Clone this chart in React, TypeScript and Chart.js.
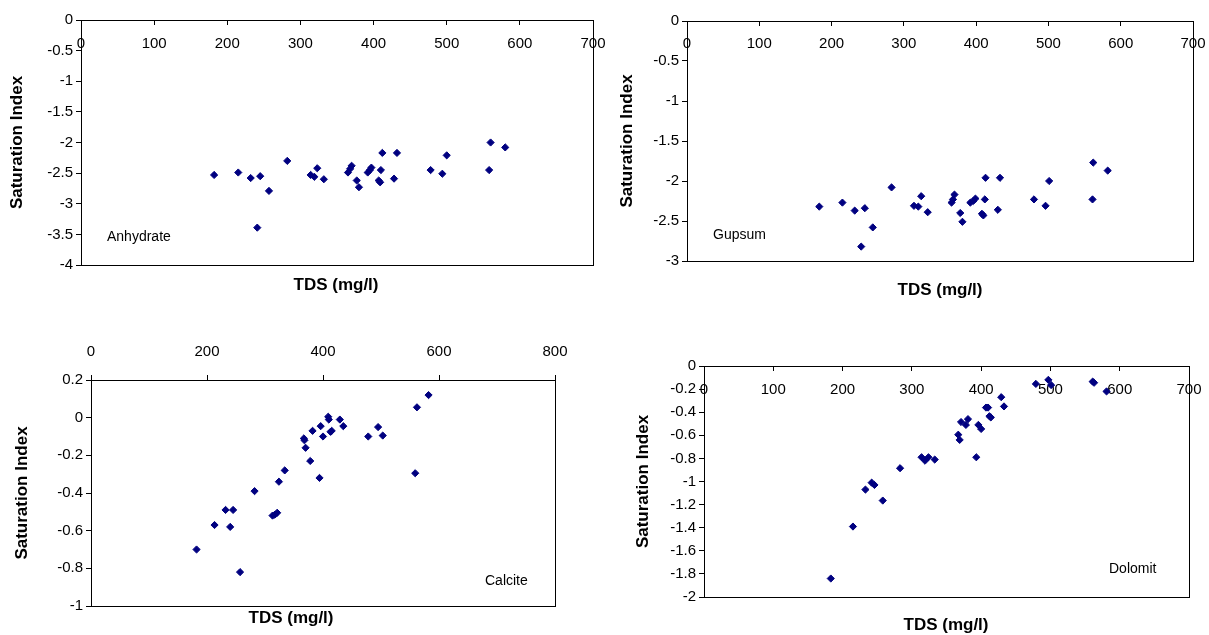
import React, { useEffect, useRef } from "react";
import { Chart, registerables } from "chart.js";

Chart.register(...registerables);

const FONT = "'Liberation Sans', Arial, Helvetica, sans-serif";
const NAVY = "#000080";
const TICK_PX = 15;
const NAME_PX = 14;
const TITLE_PX = 17;

// Saturation indices against total dissolved solids, one pair of arrays per mineral
const anhydrateTds = [182, 215, 232, 241, 245, 257, 282, 314, 319, 323, 332, 365, 368, 370, 377, 380, 392, 395, 397, 407, 409, 410, 412, 428, 432, 478, 494, 500, 558, 560, 580];
const anhydrateSi = [-2.53, -2.49, -2.58, -3.39, -2.55, -2.79, -2.3, -2.53, -2.56, -2.42, -2.6, -2.49, -2.43, -2.38, -2.62, -2.73, -2.49, -2.45, -2.41, -2.62, -2.65, -2.45, -2.17, -2.59, -2.17, -2.45, -2.51, -2.21, -2.45, -2.0, -2.08];

const gypsumTds = [183, 215, 232, 241, 246, 257, 283, 314, 320, 324, 333, 366, 368, 370, 378, 381, 392, 396, 399, 408, 410, 412, 413, 430, 433, 480, 496, 501, 561, 562, 582];
const gypsumSi = [-2.32, -2.27, -2.37, -2.82, -2.34, -2.58, -2.08, -2.31, -2.32, -2.19, -2.39, -2.27, -2.23, -2.17, -2.4, -2.51, -2.27, -2.25, -2.22, -2.41, -2.43, -2.23, -1.96, -2.36, -1.96, -2.23, -2.31, -2.0, -2.23, -1.77, -1.87];

const calciteTds = [182, 213, 232, 240, 245, 257, 282, 313, 317, 321, 324, 334, 367, 368, 370, 378, 382, 394, 396, 400, 409, 410, 413, 415, 429, 435, 478, 495, 503, 559, 562, 582];
const calciteSi = [-0.7, -0.57, -0.49, -0.58, -0.49, -0.82, -0.39, -0.52, -0.515, -0.505, -0.34, -0.28, -0.11, -0.12, -0.16, -0.23, -0.07, -0.32, -0.045, -0.1, 0.005, -0.01, -0.075, -0.07, -0.01, -0.045, -0.1, -0.05, -0.095, -0.295, 0.055, 0.12];

const dolomiteTds = [183, 215, 233, 242, 246, 258, 283, 314, 319, 324, 333, 367, 369, 371, 378, 381, 393, 396, 400, 407, 410, 412, 414, 429, 433, 479, 497, 501, 561, 563, 581];
const dolomiteSi = [-1.84, -1.39, -1.07, -1.01, -1.03, -1.165, -0.885, -0.79, -0.82, -0.79, -0.81, -0.595, -0.64, -0.485, -0.51, -0.46, -0.79, -0.51, -0.545, -0.36, -0.36, -0.435, -0.445, -0.27, -0.35, -0.155, -0.12, -0.165, -0.135, -0.145, -0.22];

// Axis ticks
const tdsTicks700 = [0, 100, 200, 300, 400, 500, 600, 700];
const tdsTicks800 = [0, 200, 400, 600, 800];
const anhydrateTicks = [0, -0.5, -1, -1.5, -2, -2.5, -3, -3.5, -4];
const gypsumTicks = [0, -0.5, -1, -1.5, -2, -2.5, -3];
const calciteTicks = [0.2, 0, -0.2, -0.4, -0.6, -0.8, -1];
const dolomiteTicks = [0, -0.2, -0.4, -0.6, -0.8, -1, -1.2, -1.4, -1.6, -1.8, -2];

const xTitle = "TDS (mg/l)";
const yTitle = "Saturation Index";

interface PanelSpec {
  name: string;
  tds: number[];
  si: number[];
  xTicks: number[];
  yTicks: number[];
  box: [number, number, number, number]; // canvas left, top, width, height
  area: [number, number, number, number]; // plot left, top, right, bottom
  xInside: boolean; // tick labels hang inside the plot below the top axis
  xLabelGap: number; // plot top to tick label centre
  yTitleX: number;
  xTitleAt: [number, number];
  nameAt: [number, number];
}

const panels: PanelSpec[] = [
  {
    name: "Anhydrate", tds: anhydrateTds, si: anhydrateSi, xTicks: tdsTicks700, yTicks: anhydrateTicks,
    box: [0, 0, 620, 310], area: [81, 20, 593, 265], xInside: true, xLabelGap: 24,
    yTitleX: 17, xTitleAt: [336, 285], nameAt: [107, 237],
  },
  {
    name: "Gupsum", tds: gypsumTds, si: gypsumSi, xTicks: tdsTicks700, yTicks: gypsumTicks,
    box: [600, 0, 609, 310], area: [687, 21, 1193, 261], xInside: true, xLabelGap: 23,
    yTitleX: 627, xTitleAt: [940, 290], nameAt: [713, 235],
  },
  {
    name: "Calcite", tds: calciteTds, si: calciteSi, xTicks: tdsTicks800, yTicks: calciteTicks,
    box: [0, 310, 600, 325], area: [91, 380, 555, 606], xInside: false, xLabelGap: 28,
    yTitleX: 22, xTitleAt: [291, 618], nameAt: [485, 581],
  },
  {
    name: "Dolomit", tds: dolomiteTds, si: dolomiteSi, xTicks: tdsTicks700, yTicks: dolomiteTicks,
    box: [600, 310, 609, 325], area: [704, 366, 1189, 597], xInside: true, xLabelGap: 24,
    yTitleX: 643, xTitleAt: [946, 625], nameAt: [1109, 569],
  },
];

// Frame around the plot area plus the x-axis title and the mineral name
const panelText = {
  id: "panelText",
  beforeDatasetsDraw(chart: any) {
    const { ctx, chartArea: a } = chart;
    ctx.save();
    ctx.strokeStyle = "#000";
    ctx.lineWidth = 1;
    ctx.strokeRect(Math.round(a.left) + 0.5, Math.round(a.top) + 0.5, Math.round(a.right - a.left), Math.round(a.bottom - a.top));
    ctx.restore();
  },
  afterDraw(chart: any, _args: any, opts: any) {
    const { ctx } = chart;
    ctx.save();
    ctx.fillStyle = "#000";
    ctx.textBaseline = "middle";
    ctx.textAlign = "center";
    ctx.font = `bold ${TITLE_PX}px ${FONT}`;
    ctx.fillText(opts.xTitle, opts.xTitleX, opts.xTitleY);
    ctx.textAlign = "left";
    ctx.font = `${NAME_PX}px ${FONT}`;
    ctx.fillText(opts.name, opts.nameX, opts.nameY);
    ctx.restore();
  },
};

function Panel({ spec }: { spec: PanelSpec }) {
  const ref = useRef<HTMLCanvasElement>(null);

  useEffect(() => {
    const canvas = ref.current;
    if (!canvas) return;
    const [bl, bt, bw, bh] = spec.box;
    const [L, T, R, B] = spec.area;
    const lineH = TICK_PX * 1.2;
    // inside labels use the mirrored layout (drawn below the axis line, not clipped)
    const xTick = spec.xInside ? -5 : 5;
    const xPad = spec.xInside ? spec.xLabelGap - lineH / 2 : spec.xLabelGap - lineH / 2 - xTick;
    const xs = spec.xTicks;
    const ys = spec.yTicks;

    const chart = new Chart(canvas, {
      type: "scatter",
      data: {
        datasets: [
          {
            data: spec.tds.map((x, i) => ({ x, y: spec.si[i] })),
            pointStyle: "rectRot",
            pointRadius: 3.6,
            pointBackgroundColor: NAVY,
            pointBorderColor: NAVY,
            pointBorderWidth: 1,
            showLine: false,
          },
        ],
      },
      options: {
        animation: false,
        responsive: false,
        devicePixelRatio: 1,
        events: [],
        layout: { padding: { left: 0, top: 0, right: bl + bw - R, bottom: bt + bh - B } },
        plugins: {
          legend: { display: false },
          tooltip: { enabled: false },
          panelText: {
            xTitle,
            xTitleX: spec.xTitleAt[0] - bl,
            xTitleY: spec.xTitleAt[1] - bt,
            name: spec.name,
            nameX: spec.nameAt[0] - bl,
            nameY: spec.nameAt[1] - bt,
          },
        } as any,
        scales: {
          x: {
            type: "linear",
            position: "top",
            min: Math.min(...xs),
            max: Math.max(...xs),
            afterBuildTicks: (s: any) => {
              s.ticks = xs.map((v) => ({ value: v }));
            },
            afterFit: (s: any) => {
              s.height = T - bt;
              s.paddingLeft = 0;
              s.paddingRight = 0;
            },
            grid: { drawOnChartArea: false, color: "#000", tickLength: xTick },
            border: { display: true, color: "#000", width: 1 },
            ticks: {
              autoSkip: false,
              maxRotation: 0,
              mirror: spec.xInside,
              padding: xPad,
              color: "#000",
              font: { family: FONT, size: TICK_PX },
              callback: (v: any) => String(v),
            },
          },
          y: {
            type: "linear",
            position: "left",
            min: Math.min(...ys),
            max: Math.max(...ys),
            afterBuildTicks: (s: any) => {
              s.ticks = ys.map((v) => ({ value: v }));
            },
            afterFit: (s: any) => {
              s.width = L - bl;
              s.paddingTop = 0;
              s.paddingBottom = 0;
            },
            grid: { drawOnChartArea: false, color: "#000", tickLength: 5 },
            border: { display: true, color: "#000", width: 1 },
            ticks: {
              autoSkip: false,
              padding: 3,
              color: "#000",
              font: { family: FONT, size: TICK_PX },
              callback: (v: any) => String(v),
            },
            title: {
              display: true,
              text: yTitle,
              color: "#000",
              font: { family: FONT, size: TITLE_PX, weight: "bold" },
              padding: { top: spec.yTitleX - bl - (TITLE_PX * 1.2) / 2, bottom: 0 },
            },
          },
        },
      },
      plugins: [panelText as any],
    });

    return () => chart.destroy();
  }, [spec]);

  const [bl, bt, bw, bh] = spec.box;
  return (
    <canvas
      ref={ref}
      width={bw}
      height={bh}
      style={{ position: "absolute", left: bl, top: bt, width: bw, height: bh }}
    />
  );
}

export default function App() {
  return (
    <div style={{ position: "absolute", left: 0, top: 0, width: 1209, height: 635, background: "#fff" }}>
      {panels.map((p) => (
        <Panel key={p.name} spec={p} />
      ))}
    </div>
  );
}
